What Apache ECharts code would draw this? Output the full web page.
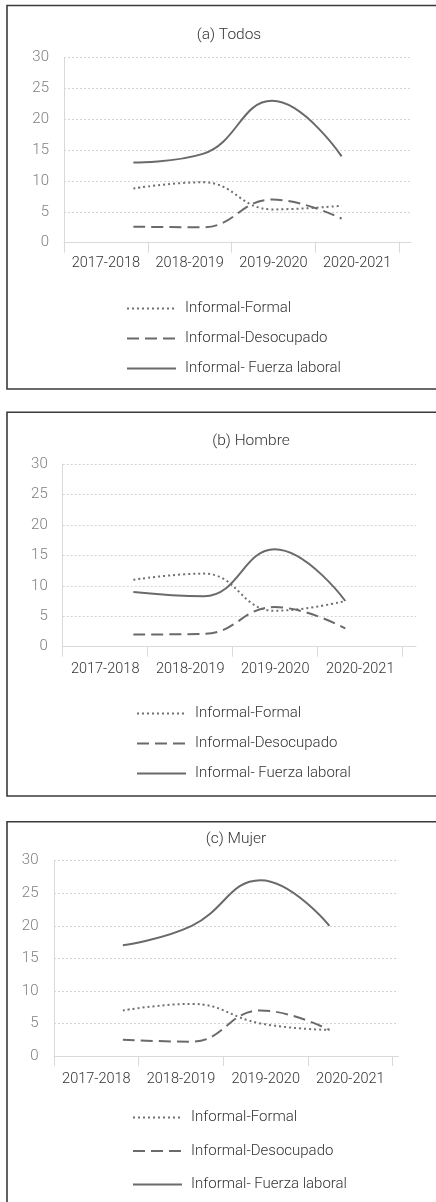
<!DOCTYPE html>
<html>
<head>
<meta charset="utf-8">
<script src="https://cdn.jsdelivr.net/npm/echarts@6/dist/echarts.min.js"></script>
<style>
html,body{margin:0;padding:0;background:#fff;}
#c{width:436px;height:1202px;}
</style>
</head>
<body>
<div id="c"></div>
<script>
// ---- data ----
const categories = ['2017-2018', '2018-2019', '2019-2020', '2020-2021'];
const seriesNames = ['Informal-Formal', 'Informal-Desocupado', 'Informal- Fuerza laboral'];
const panelTitles = ['(a) Todos', '(b) Hombre', '(c) Mujer'];
const yTicks = [0, 5, 10, 15, 20, 25, 30];

const todosFormal = [8.8, 9.8, 5.4, 6.0];
const todosDesocupado = [2.6, 2.5, 7.0, 3.9];
const todosFuerza = [13.0, 14.4, 23.0, 14.0];

const hombreFormal = [11.0, 12.0, 5.9, 7.5];
const hombreDesocupado = [2.0, 2.1, 6.5, 3.0];
const hombreFuerza = [9.0, 8.3, 16.0, 7.5];

const mujerFormal = [7.0, 8.0, 5.0, 4.0];
const mujerDesocupado = [2.5, 2.2, 7.0, 4.0];
const mujerFuerza = [17.0, 20.0, 27.0, 20.0];

const panelData = [
  [todosFormal, todosDesocupado, todosFuerza],
  [hombreFormal, hombreDesocupado, hombreFuerza],
  [mujerFormal, mujerDesocupado, mujerFuerza]
];

// ---- layout (positions / styles) ----
const FONT = 'Roboto';
const FW = 300;
const layouts = [
  {box:[7,5.5,383.5], title:[224,22], grid:{left:64,right:25,top:57.7,height:185}, catRight:37, labelMargin:13, ylm:15,
   legend:{left:126, top:301, gap:15}},
  {box:[7,412.3,383.7], title:[246,428], grid:{left:62.7,right:20,top:464,height:182.7}, catRight:33.3, labelMargin:15, ylm:15,
   legend:{left:136, top:706, gap:15}},
  {box:[7,821.7,400], title:[231,826], grid:{left:54,right:37.7,top:860.7,height:195.3}, catRight:43.3, labelMargin:16, ylm:15.5,
   legend:{left:132, top:1110, gap:18.5}}
];

const lineStyles = [
  {type:[2,3], width:2, color:'#707070'},
  {type:[12,6], width:2, color:'#6a6a6a'},
  {type:'solid', width:2, color:'#6a6a6a'}
];

const grid=[], xAxis=[], yAxis=[], series=[], title=[], legend=[], graphic=[];
layouts.forEach((L, p) => {
  graphic.push({type:'rect', shape:{x:L.box[0], y:L.box[1], width:460, height:L.box[2]},
    style:{fill:'none', stroke:'#3a3a3a', lineWidth:1.6}, silent:true});
  title.push({text:panelTitles[p], left:L.title[0], top:L.title[1], textAlign:'center',
    textStyle:{fontFamily:FONT, fontSize:15.5, fontWeight:FW, color:'#333333'}});
  const g = grid.length;
  grid.push({left:L.grid.left, right:L.grid.right, top:L.grid.top, height:L.grid.height});
  grid.push({left:L.grid.left, right:L.catRight, top:L.grid.top, height:L.grid.height});
  xAxis.push({type:'value', gridIndex:g, min:-1, max:categories.length,
    axisLine:{show:true, onZero:false, lineStyle:{color:'#d9d9d9', width:1}},
    axisTick:{show:false}, axisLabel:{show:false}, splitLine:{show:false}});
  xAxis.push({type:'category', gridIndex:g+1, data:categories, boundaryGap:true,
    axisLine:{show:false}, axisTick:{show:true, length:10, lineStyle:{color:'#d9d9d9'}},
    axisLabel:{margin:L.labelMargin, fontFamily:FONT, fontSize:14.5, fontWeight:FW, color:'#333333', interval:0}});
  yAxis.push({type:'value', gridIndex:g, min:yTicks[0], max:yTicks[yTicks.length-1], interval:yTicks[1]-yTicks[0],
    axisLine:{show:true, onZero:false, lineStyle:{color:'#d9d9d9'}}, axisTick:{show:false},
    axisLabel:{margin:L.ylm, fontFamily:FONT, fontSize:15, fontWeight:FW, color:'#808080'},
    splitLine:{show:true, lineStyle:{color:'#d4d4d4', type:[2,2], width:1}}});
  yAxis.push({type:'value', gridIndex:g+1, min:0, max:30, show:false});
  const xi = xAxis.length-2, yi = yAxis.length-2;
  panelData[p].forEach((vals, s) => {
    series.push({type:'line', name:seriesNames[s], xAxisIndex:xi, yAxisIndex:yi,
      data: vals.map((v,i)=>[i, v]), smooth:0.45, symbol:'none', showSymbol:false,
      itemStyle:{color:lineStyles[s].color},
      lineStyle:lineStyles[s], silent:true, z:3+s});
  });
  legend.push({orient:'vertical', left:L.legend.left, top:L.legend.top, itemGap:L.legend.gap,
    padding:0, itemWidth:49, itemHeight:15, data:seriesNames.map(n=>({name:n})),
    itemStyle:{opacity:0},
    textStyle:{fontFamily:FONT, fontSize:15, fontWeight:FW, color:'#333333', padding:[0,0,0,4]},
    selectedMode:false});
});

const chart = echarts.init(document.getElementById('c'), null, {renderer:'canvas'});
chart.setOption({animation:false, backgroundColor:'#fff', title, grid, xAxis, yAxis, series, legend, graphic});
</script>
</body>
</html>
